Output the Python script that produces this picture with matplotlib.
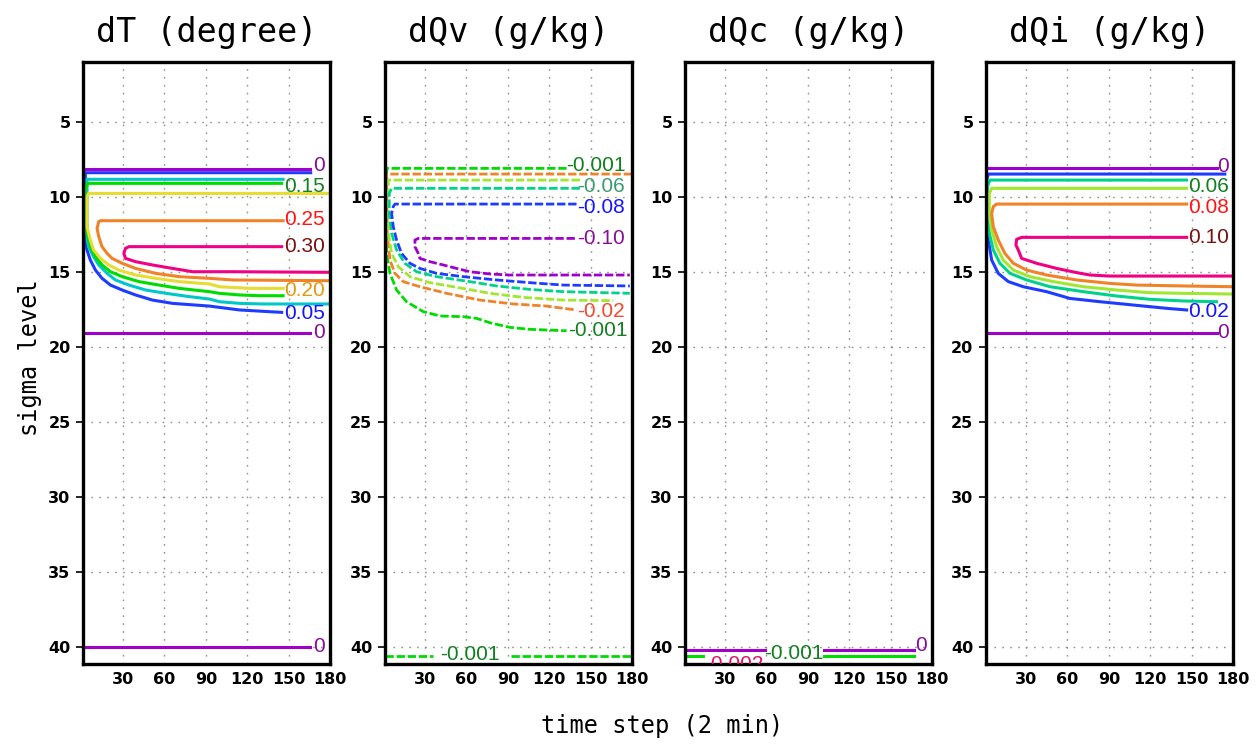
import matplotlib
matplotlib.use('Agg')
import matplotlib.pyplot as plt

# ---- data (time step, sigma level) ----
# dT (degree)
dT_0_top = [(1, 8.1), (165.5, 8.1)]
dT_0_mid = [(1, 19.04), (165.5, 19.04)]
dT_0_bot = [(1, 40.0), (165.5, 40.0)]
dT_005 = [(166, 8.38), (2.7, 8.38), (2.7, 13.1), (3.9, 13.53), (6.3, 14.2), (10, 14.87), (14.8, 15.42),
          (20.9, 15.87), (29.4, 16.2), (39.1, 16.53), (51.3, 16.87), (65.9, 17.09), (92.6, 17.27),
          (114.5, 17.53), (145, 17.69)]
dT_010 = [(146, 8.82), (3.9, 8.82), (3.9, 12.64), (5.1, 13.31), (8.7, 13.98), (12.4, 14.53), (18.5, 15.09),
          (24.5, 15.53), (34.3, 15.87), (46.4, 16.2), (61, 16.42), (78, 16.64), (92.6, 16.8), (99.9, 16.98),
          (114.5, 17.09), (131.5, 17.13), (180, 17.13)]
dT_015 = [(145, 9.09), (4.5, 9.09), (2.7, 9.5), (2.7, 9.76), (3.9, 12.42), (6.3, 13.31), (10, 13.98),
          (14.8, 14.53), (20.9, 14.98), (29.4, 15.31), (41.6, 15.64), (56.1, 15.87), (70.7, 16.09),
          (92.6, 16.31), (99.9, 16.42), (114.5, 16.53), (129, 16.58), (146, 16.58)]
dT_020 = [(180, 9.76), (5.1, 9.76), (3.9, 9.98), (3.9, 11.98), (6.3, 12.87), (8.7, 13.53), (13.6, 14.09),
          (19.7, 14.53), (27, 14.87), (39.1, 15.2), (53.7, 15.42), (70.7, 15.64), (92.6, 15.8), (99.9, 15.98),
          (121.7, 16.09), (146, 16.09)]
dT_025 = [(146, 11.58), (13.6, 11.58), (12.4, 11.64), (11.2, 12.09), (12.4, 12.64), (14.8, 13.31),
          (18.5, 13.76), (22.1, 14.09), (29.4, 14.42), (39.1, 14.76), (53.7, 15.09), (70.7, 15.31),
          (92.6, 15.42), (109.6, 15.53), (180, 15.58)]
dT_030 = [(145, 13.31), (34.3, 13.31), (31.8, 13.42), (30.6, 13.76), (31.8, 14.09), (39.1, 14.31),
          (51.3, 14.53), (65.9, 14.76), (80.4, 14.98), (109.6, 14.98), (180, 15.02)]

# dQv (g/kg)
dQv_m0001 = [(132.6, 8.09), (2.2, 8.09), (2.2, 13.76), (4.6, 15.09), (9.4, 16.2), (16.6, 16.98), (28.7, 17.64),
             (40.8, 17.93), (57.7, 17.98), (67.4, 18.09), (77, 18.38), (91.5, 18.69), (106, 18.82),
             (130.2, 18.91), (132.6, 18.91)]
dQv_m002 = [(180, 8.47), (2.2, 8.47), (2.6, 12.42), (4.6, 14.2), (8.2, 15.09), (14.2, 15.64), (26.3, 15.98),
            (45.6, 16.42), (69.8, 16.87), (93.9, 17.13), (118.1, 17.27), (130.2, 17.42), (139.8, 17.53)]
dQv_m004 = [(142.2, 8.87), (3.4, 8.87), (3.4, 12.42), (5.8, 13.76), (10.6, 14.64), (19.1, 15.31), (33.6, 15.71),
            (52.9, 16.02), (77, 16.42), (101.2, 16.69), (130.2, 16.87), (166.4, 16.91)]
dQv_m006 = [(142.2, 9.42), (5.8, 9.42), (4.1, 9.76), (4.1, 11.09), (5.8, 12.42), (9.4, 13.53), (15.4, 14.42),
            (23.9, 14.98), (38.4, 15.31), (62.5, 15.64), (81.9, 15.93), (106, 16.16), (130.2, 16.31),
            (178.4, 16.42)]
dQv_m008 = [(139.8, 10.47), (8.2, 10.47), (7, 10.64), (5.8, 11.09), (7, 11.98), (9.4, 12.87), (13, 13.76),
            (19.1, 14.42), (26.3, 14.76), (38.4, 15.09), (57.7, 15.31), (81.9, 15.53), (106, 15.71),
            (130.2, 15.87), (178.4, 15.93)]
dQv_m010 = [(138.6, 12.76), (25.1, 12.76), (22.7, 12.87), (22.7, 13.31), (25.1, 13.76), (26.3, 14.09),
            (33.6, 14.31), (43.2, 14.53), (52.9, 14.76), (62.5, 14.98), (77, 15.13), (91.5, 15.2), (178.4, 15.2)]
dQv_m0001_low_a = [(1, 40.62), (36, 40.62)]
dQv_m0001_low_b = [(92.5, 40.62), (180, 40.62)]

# dQc (g/kg)
dQc_0_a = [(1, 40.2), (59.3, 40.2)]
dQc_0_b = [(101.7, 40.2), (167, 40.2)]
dQc_m0001_a = [(1, 40.62), (13.8, 40.62)]
dQc_m0001_b = [(101.7, 40.62), (167, 40.62)]

# dQi (g/kg)
dQi_0_top = [(1, 8.09), (168.1, 8.09)]
dQi_0_bot = [(1, 19.04), (168.1, 19.04)]
dQi_002 = [(174.1, 8.47), (2.7, 8.47), (1.5, 8.87), (1.5, 11.31), (2.7, 12.87), (5.1, 14.2), (9.9, 15.09),
           (17.2, 15.64), (28, 15.98), (44.9, 16.31), (61.8, 16.76), (83.6, 16.98), (107.7, 17.2),
           (131.9, 17.42), (146.4, 17.53)]
dQi_004 = [(146.4, 8.87), (3.9, 8.87), (1.95, 9.31), (1.95, 11.09), (3.4, 12.42), (6.3, 13.53), (11.1, 14.42),
           (18.4, 15.09), (30.4, 15.53), (47.4, 15.98), (71.5, 16.31), (95.7, 16.6), (119.8, 16.82),
           (144, 16.93), (168.1, 16.98)]
dQi_006 = [(146.4, 9.42), (5.1, 9.42), (3.4, 9.76), (3.4, 11.09), (5.1, 12.2), (8.7, 13.31), (13.5, 14.2),
           (20.8, 14.87), (32.9, 15.31), (49.8, 15.64), (71.5, 15.98), (95.7, 16.2), (119.8, 16.38),
           (144, 16.42), (180, 16.47)]
dQi_008 = [(146.4, 10.47), (8.7, 10.47), (6.3, 10.64), (5.1, 11.09), (6.3, 11.98), (9.9, 12.87), (14.7, 13.76),
           (20.8, 14.42), (30.4, 14.87), (44.9, 15.2), (66.7, 15.53), (90.8, 15.76), (110.1, 15.87),
           (144, 15.93), (180, 15.98)]
dQi_010 = [(146.4, 12.69), (26.8, 12.69), (23.2, 12.82), (22.7, 13.2), (24.4, 13.53), (26.8, 14.09),
           (37.7, 14.42), (52.2, 14.76), (66.7, 15.04), (76.3, 15.2), (90.8, 15.27), (180, 15.27)]

# contour labels: (text, time step, sigma)
dT_labels = [('0', 167.5, 7.9), ('0.15', 146.5, 9.3), ('0.25', 147, 11.5), ('0.30', 146.5, 13.3),
             ('0.20', 147, 16.2), ('0.05', 146.5, 17.75), ('0', 168, 19.0), ('0', 168, 39.95)]
dQv_labels = [('-0.001', 132, 7.9), ('-0.06', 140.5, 9.3), ('-0.08', 140.5, 10.72), ('-0.10', 140, 12.76),
              ('-0.02', 140, 17.64), ('-0.001', 134, 18.87), ('-0.001', 41, 40.5)]
dQc_labels = [('-0.002', 15, 41.15), ('-0.001', 58.5, 40.45), ('0', 168, 39.9)]
dQi_labels = [('0', 168.5, 7.95), ('0.06', 147.5, 9.3), ('0.08', 147.5, 10.72), ('0.10', 147.5, 12.7),
              ('0.02', 147.5, 17.64), ('0', 168.5, 19.0)]

titles = ['dT (degree)', 'dQv (g/kg)', 'dQc (g/kg)', 'dQi (g/kg)']
xticks = [30, 60, 90, 120, 150, 180]
yticks = [5, 10, 15, 20, 25, 30, 35, 40]

# ---- styles (GrADS default colours) ----
PURPLE = (160/255, 0, 200/255)
BLUE = (30/255, 60/255, 1.0)
CYAN = (0, 200/255, 200/255)
GREEN = (0, 220/255, 0)
YELLOW = (230/255, 220/255, 50/255)
ORANGE = (240/255, 130/255, 40/255)
MAGENTA = (240/255, 0, 130/255)
YGREEN = (160/255, 230/255, 50/255)
AQUA = (0, 210/255, 140/255)

label_colors = {
    'purple': '#860f96', 'dgreen': '#12801e', 'red': '#ff1414', 'maroon': '#7a1010',
    'gold': '#e09a10', 'blue': '#1414ff', 'teal': '#3c9c70', 'orred': '#f04a30', 'crimson': '#e0106a',
}

panels = [
    ([(dT_0_top, PURPLE), (dT_0_mid, PURPLE), (dT_0_bot, PURPLE), (dT_005, BLUE), (dT_010, CYAN),
      (dT_015, GREEN), (dT_020, YELLOW), (dT_025, ORANGE), (dT_030, MAGENTA)],
     dT_labels, ['purple', 'dgreen', 'red', 'maroon', 'gold', 'blue', 'purple', 'purple'], False),
    ([(dQv_m0001, GREEN), (dQv_m002, ORANGE), (dQv_m004, YGREEN), (dQv_m006, AQUA), (dQv_m008, BLUE),
      (dQv_m010, PURPLE), (dQv_m0001_low_a, GREEN), (dQv_m0001_low_b, GREEN)],
     dQv_labels, ['dgreen', 'teal', 'blue', 'purple', 'orred', 'dgreen', 'dgreen'], True),
    ([(dQc_0_a, PURPLE), (dQc_0_b, PURPLE), (dQc_m0001_a, GREEN), (dQc_m0001_b, GREEN)],
     dQc_labels, ['crimson', 'dgreen', 'purple'], False),
    ([(dQi_0_top, PURPLE), (dQi_0_bot, PURPLE), (dQi_002, BLUE), (dQi_004, AQUA), (dQi_006, YGREEN),
      (dQi_008, ORANGE), (dQi_010, MAGENTA)],
     dQi_labels, ['purple', 'dgreen', 'red', 'maroon', 'blue', 'purple'], False),
]

fig = plt.figure(figsize=(12.57, 7.44), dpi=100)
lefts = [83, 385, 685, 986]

for i, (lines, labels, lcols, dashed) in enumerate(panels):
    ax = fig.add_axes([lefts[i] / 1257, 1 - 664 / 744, 247 / 1257, 602 / 744])
    ax.set_xlim(1, 180)
    ax.set_ylim(41.13, 1)

    ax.grid(True, color='#909090', linestyle=(0, (1.2, 4.5)), linewidth=1.0)
    ax.set_xticks(xticks)
    ax.set_yticks(yticks)
    ax.tick_params(axis='x', length=0, pad=6)
    ax.tick_params(axis='y', length=5, width=1.2, direction='out', pad=4)
    for lab in ax.get_xticklabels() + ax.get_yticklabels():
        lab.set_fontweight('bold')
        lab.set_fontsize(11.5)
    for sp in ax.spines.values():
        sp.set_linewidth(2.4)

    for pts, col in lines:
        xs = [p[0] for p in pts]
        ys = [p[1] for p in pts]
        if dashed:
            ax.plot(xs, ys, color=col, lw=2.0, dashes=(3.0, 1.0), solid_capstyle='butt')
        else:
            ax.plot(xs, ys, color=col, lw=2.2)

    for (txt, tx, ty), c in zip(labels, lcols):
        ax.text(tx, ty, txt, color=label_colors[c], fontsize=15, family='Liberation Sans',
                ha='left', va='center', clip_on=(ty > 40.8))

    fig.text((lefts[i] + 123.5) / 1257, 1 - 42 / 744, titles[i], family='DejaVu Sans Mono',
             fontsize=24, ha='center', va='baseline')

fig.text(662 / 1257, 1 - 733 / 744, 'time step (2 min)', family='DejaVu Sans Mono',
         fontsize=17, ha='center', va='baseline')
fig.text(30 / 1257, 1 - 358 / 744, 'sigma level', family='DejaVu Sans Mono',
         fontsize=17, ha='center', va='center', rotation=90)

plt.savefig('out.png', dpi=100)
